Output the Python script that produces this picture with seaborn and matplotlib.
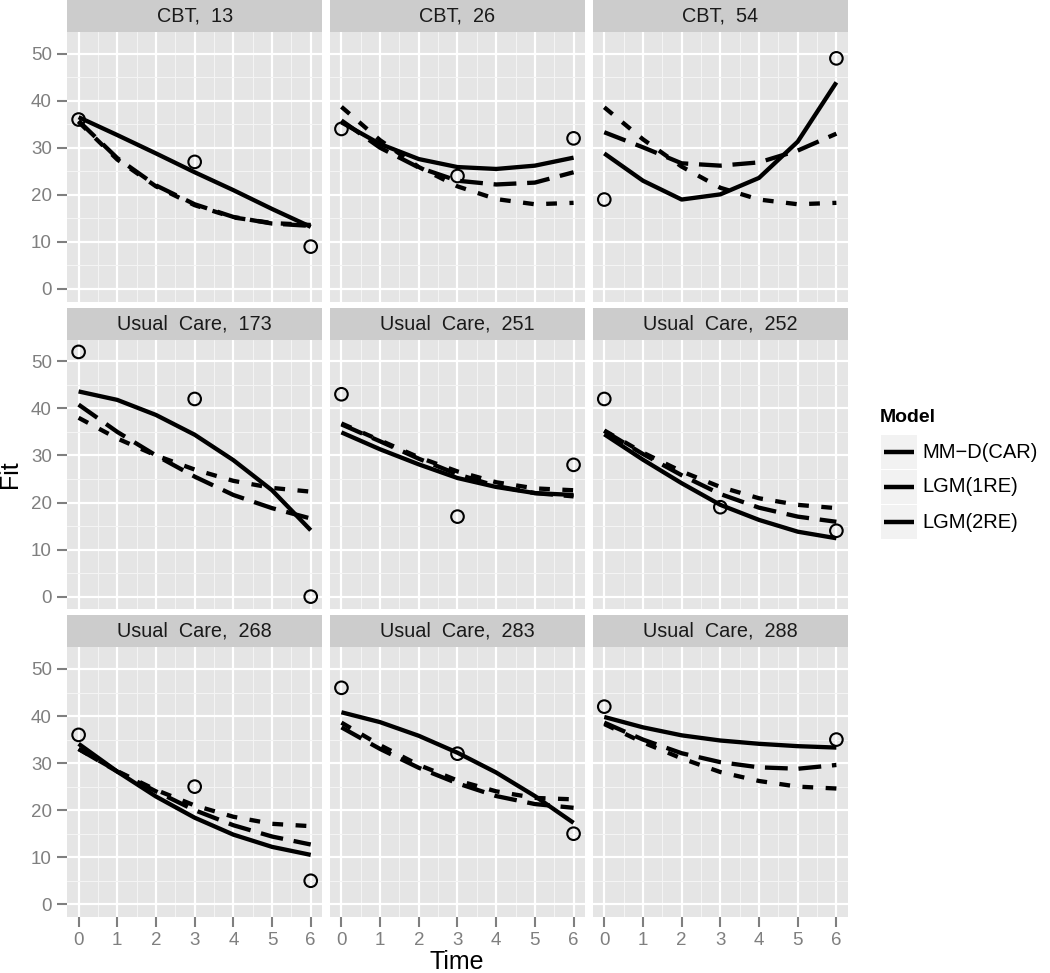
import numpy as np
import pandas as pd
import matplotlib
matplotlib.use("Agg")
import matplotlib.pyplot as plt
from matplotlib.patches import Rectangle
from matplotlib.lines import Line2D
from matplotlib.ticker import MultipleLocator
import seaborn as sns

# ---------------- data ----------------
groups = ["CBT", "CBT", "CBT", "Usual Care", "Usual Care", "Usual Care",
          "Usual Care", "Usual Care", "Usual Care"]
subject_ids = [13, 26, 54, 173, 251, 252, 268, 283, 288]
times = [0, 1, 2, 3, 4, 5, 6]
models = ["MM-D(CAR)", "LGM(1RE)", "LGM(2RE)"]
legend_labels = ["MM\u2212D(CAR)", "LGM(1RE)", "LGM(2RE)"]

mmd_car = [
    [36.5, 32.7, 28.8, 24.8, 21.0, 17.0, 13.2],
    [35.4, 30.8, 27.6, 25.9, 25.5, 26.2, 27.9],
    [28.8, 23.0, 19.0, 20.1, 23.6, 31.3, 43.9],
    [43.6, 41.8, 38.6, 34.4, 29.0, 22.6, 14.1],
    [34.9, 31.3, 28.1, 25.2, 23.3, 22.0, 21.6],
    [34.5, 29.1, 24.1, 19.5, 16.3, 13.8, 12.4],
    [34.1, 28.2, 22.9, 18.4, 14.8, 12.2, 10.5],
    [40.8, 38.7, 35.8, 32.2, 28.0, 23.0, 17.3],
    [39.8, 37.6, 35.9, 34.8, 34.1, 33.6, 33.3],
]
lgm_1re = [
    [35.5, 27.5, 21.8, 17.8, 15.2, 14.0, 13.6],
    [38.7, 31.6, 25.9, 21.8, 19.1, 18.0, 18.3],
    [38.6, 31.8, 26.0, 21.5, 19.0, 18.0, 18.3],
    [38.0, 33.6, 30.0, 27.0, 24.6, 23.1, 22.3],
    [36.8, 33.2, 29.6, 26.6, 24.3, 23.0, 22.6],
    [35.3, 30.6, 26.6, 23.3, 20.9, 19.5, 18.8],
    [33.0, 28.3, 24.3, 21.0, 18.6, 17.1, 16.6],
    [38.6, 33.8, 29.6, 26.3, 24.0, 22.6, 22.3],
    [38.3, 34.4, 31.0, 28.1, 26.2, 25.0, 24.6],
]
lgm_2re = [
    [35.7, 27.8, 22.0, 18.0, 15.3, 13.9, 13.4],
    [35.8, 30.0, 25.8, 23.0, 22.2, 22.6, 24.8],
    [33.3, 30.1, 26.7, 26.2, 26.9, 29.4, 33.0],
    [40.8, 35.0, 30.0, 25.5, 21.6, 18.8, 16.6],
    [36.6, 33.0, 29.3, 26.0, 23.5, 22.0, 21.3],
    [35.2, 30.3, 25.8, 21.8, 18.9, 17.0, 15.9],
    [33.0, 28.2, 24.0, 20.0, 16.8, 14.4, 12.7],
    [37.6, 33.0, 29.0, 25.7, 23.0, 21.3, 20.5],
    [38.6, 35.0, 32.1, 30.2, 29.1, 28.8, 29.6],
]

obs_times = [[0, 3, 6], [0, 3, 6], [0, 6], [0, 3, 6], [0, 3, 6],
             [0, 3, 6], [0, 3, 6], [0, 3, 6], [0, 6]]
obs_values = [[36, 27, 9], [34, 24, 32], [19, 49], [52, 42, 0], [43, 17, 28],
              [42, 19, 14], [36, 25, 5], [46, 32, 15], [42, 35]]

# ---------------- frames ----------------
panel_labels = [f"{g.replace(' ', '  ')},  {i}" for g, i in zip(groups, subject_ids)]
rows = []
for lab, a, b, c in zip(panel_labels, mmd_car, lgm_1re, lgm_2re):
    for m, vals in zip(models, [a, b, c]):
        for t, v in zip(times, vals):
            rows.append((lab, m, t, v))
lines_df = pd.DataFrame(rows, columns=["panel", "Model", "Time", "Fit"])
orows = []
for lab, ts, vs in zip(panel_labels, obs_times, obs_values):
    for t, v in zip(ts, vs):
        orows.append((lab, t, v))
obs_df = pd.DataFrame(orows, columns=["panel", "Time", "Fit"])

# ---------------- style ----------------
sns.set_theme(style="white")
plt.rcParams["font.family"] = ["Liberation Sans", "DejaVu Sans"]

W, H = 1050, 973
g = sns.FacetGrid(lines_df, col="panel", col_wrap=3, col_order=panel_labels,
                  sharex=True, sharey=True, height=3, aspect=1, despine=False)
dash_map = {"MM-D(CAR)": "", "LGM(1RE)": (2.5, 2.9), "LGM(2RE)": (5.3, 2.5)}
g.map_dataframe(sns.lineplot, x="Time", y="Fit", hue="Model", style="Model",
                hue_order=models, style_order=models,
                palette=["black", "black", "black"], dashes=dash_map,
                linewidth=3.1, legend=False, estimator=None, sort=False,
                dash_capstyle="butt", solid_capstyle="butt")
g.set_titles("")
g.set_axis_labels("", "")

fig = g.figure
fig.set_size_inches(W / 100, H / 100)
fig.set_dpi(100)

ax_h_px = 269.7
strip_h = 32 / ax_h_px

for k, (ax, lab) in enumerate(zip(g.axes.flat, panel_labels)):
    sub = obs_df[obs_df["panel"] == lab]
    sns.scatterplot(data=sub, x="Time", y="Fit", ax=ax, s=82, color="black",
                    edgecolor="black", linewidth=1.5, zorder=5, legend=False)
    ax.collections[-1].set_facecolor("none")
    ax.set_xlabel("")
    ax.set_ylabel("")
    ax.set_facecolor("#E5E5E5")
    for sp in ax.spines.values():
        sp.set_visible(False)
    ax.set_xlim(-0.3, 6.3)
    ax.set_ylim(-2.7, 54.6)
    ax.xaxis.set_major_locator(MultipleLocator(1))
    ax.xaxis.set_minor_locator(MultipleLocator(0.5))
    ax.yaxis.set_major_locator(MultipleLocator(10))
    ax.yaxis.set_minor_locator(MultipleLocator(5))
    ax.grid(which="major", color="white", linewidth=1.6)
    ax.grid(which="minor", color="#F4F4F4", linewidth=0.8)
    ax.set_axisbelow(True)
    ax.tick_params(which="major", length=7, width=1.5, color="#7F7F7F",
                   labelcolor="#7F7F7F", labelsize=13.5, pad=4)
    ax.tick_params(which="minor", length=0)
    r, c = divmod(k, 3)
    if r < 2:
        ax.tick_params(axis="x", bottom=False, labelbottom=False)
    else:
        ax.tick_params(axis="x", bottom=True, labelbottom=True, pad=4)
    if c > 0:
        ax.tick_params(axis="y", left=False, labelleft=False)
    else:
        ax.tick_params(axis="y", left=True, labelleft=True, pad=4)
    ax.add_patch(Rectangle((0, 1), 1, strip_h, transform=ax.transAxes,
                           facecolor="#CCCCCC", edgecolor="none", clip_on=False))
    ax.text(0.5, 1 + strip_h / 2, lab, transform=ax.transAxes, ha="center",
            va="center", fontsize=14.3, color="#1A1A1A")

fig.subplots_adjust(left=67 / W, right=848 / W, top=1 - 32 / H, bottom=1 - 917 / H,
                    wspace=7.5 / 255.3, hspace=38 / ax_h_px)


def fx(px):
    return px / W


def fy(py):
    return 1 - py / H


fig.text(fx(10), fy(474), "Fit", rotation=90, ha="center", va="center",
         fontsize=18, color="black")
fig.text(fx(457), fy(962), "Time", ha="center", va="center",
         fontsize=18, color="black")

# legend
fig.text(fx(880), fy(418), "Model", ha="left", va="center", fontsize=14,
         fontweight="bold", color="black")
for yc, m in zip([452, 487, 522], legend_labels):
    fig.add_artist(Rectangle((fx(881), fy(yc + 17)), 36 / W, 34 / H,
                             transform=fig.transFigure, facecolor="#F2F2F2",
                             edgecolor="none"))
    fig.add_artist(Line2D([fx(884), fx(914)], [fy(yc), fy(yc)],
                          transform=fig.transFigure, color="black",
                          linewidth=3.2, solid_capstyle="butt"))
    fig.text(fx(922), fy(yc), m, ha="left", va="center", fontsize=14.5,
             color="black")

fig.savefig("out.png", dpi=100)
